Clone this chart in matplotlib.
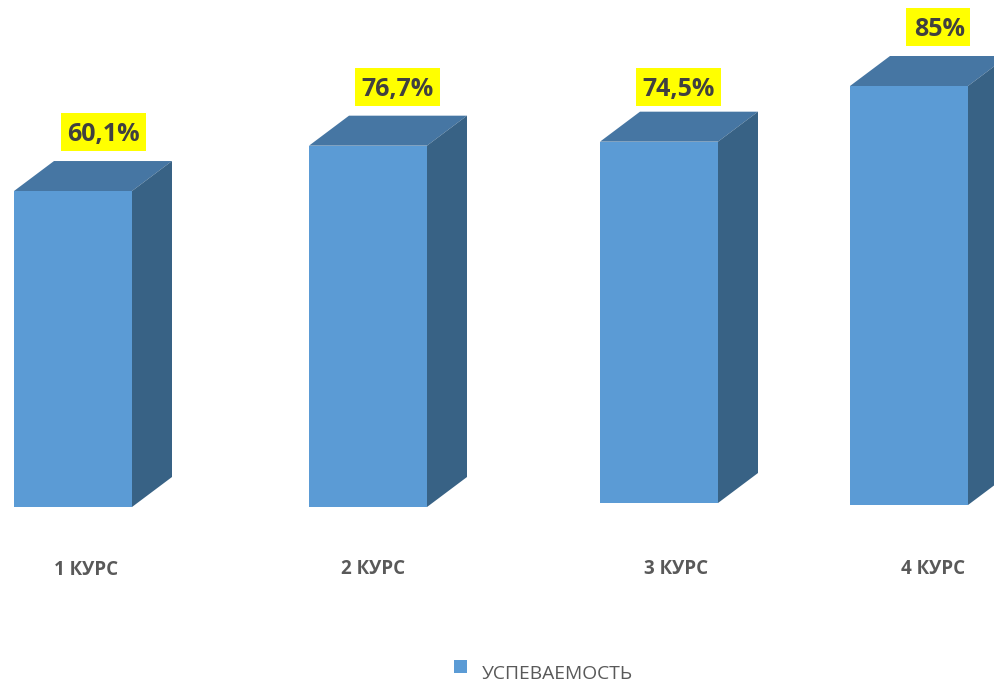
import matplotlib
matplotlib.use('Agg')
import matplotlib.pyplot as plt
from matplotlib.patches import Polygon, Rectangle

plt.rcParams['font.family'] = ['Open Sans', 'DejaVu Sans']

courses = ['1 КУРС', '2 КУРС', '3 КУРС', '4 КУРС']
labels = ['60,1%', '76,7%', '74,5%', '85%']
# the drawn bars are not proportional to their labels, so heights come from the picture
heights = [64.1, 73.3, 73.3, 85.0]
legend_name = 'УСПЕВАЕМОСТЬ'

# layout, in pixels of the 995x683 picture
W, H = 995, 683
lefts = [14, 309, 600, 850]
bottoms = [507, 507, 503, 505]
bar_w = 118
dx, dy = 40, 30
px_per_unit = 419 / 85.0
label_cx = [103, 397.5, 678.5, 938]
label_cy = [132, 87, 87, 27]
label_w = [85, 85, 85, 64]
text_cx = [103, 398, 679, 940]
tick_x = [86, 373, 676, 933]
tick_y = [570, 569, 569, 569]

front = '#5b9bd5'
top = '#4676a3'
side = '#386285'

fig = plt.figure(figsize=(W / 100, H / 100), dpi=100)
ax = fig.add_axes([0, 0, 1, 1])
ax.set_xlim(0, W)
ax.set_ylim(H, 0)
ax.axis('off')

for i in range(len(heights)):
    h = heights[i] * px_per_unit
    x0 = lefts[i]
    x1 = x0 + bar_w
    y0 = bottoms[i]
    y1 = y0 - h
    ax.bar(x0, -h, bottom=y0, width=bar_w, align='edge', color=front, zorder=3)
    ax.add_patch(Polygon([(x0, y1), (x1, y1), (x1 + dx, y1 - dy), (x0 + dx, y1 - dy)],
                         closed=True, facecolor=top, edgecolor='none', zorder=2))
    ax.add_patch(Polygon([(x1, y1), (x1 + dx, y1 - dy), (x1 + dx, y0 - dy), (x1, y0)],
                         closed=True, facecolor=side, edgecolor='none', zorder=2))
    # yellow label box
    ax.add_patch(Rectangle((label_cx[i] - label_w[i] / 2, label_cy[i] - 19), label_w[i], 38,
                           facecolor='#ffff00', edgecolor='none', zorder=4))
    ax.text(text_cx[i], label_cy[i] + 2.5, labels[i], ha='center', va='center', fontsize=18,
            fontweight='bold', color='#404040', zorder=5)
    ax.text(tick_x[i], tick_y[i], courses[i], ha='center', va='center', fontsize=13.5,
            fontweight='bold', color='#595959')

# legend
ax.add_patch(Rectangle((454, 660), 13, 13, facecolor=front, edgecolor='none'))
ax.text(482, 674, legend_name, ha='left', va='center', fontsize=13.9, color='#595959')

plt.savefig('out.png', dpi=100)
